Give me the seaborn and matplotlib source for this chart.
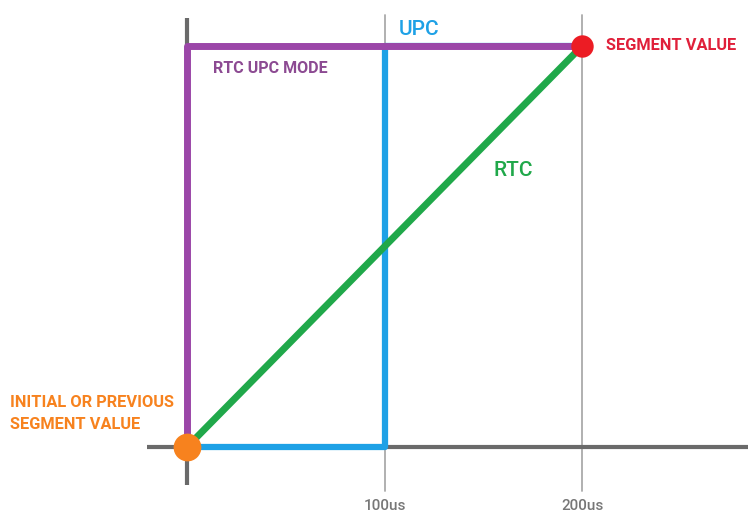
import matplotlib
matplotlib.use('Agg')
import matplotlib.pyplot as plt
import pandas as pd
import seaborn as sns

# Data (time in us, value normalised: 0 = initial, 1 = segment value)
tick_times = [100, 200]
tick_labels = ['100us', '200us']
rtc_x = [0, 200]
rtc_y = [0, 1]
upc_x = [0, 100, 100, 200]
upc_y = [0, 0, 1, 1]
mode_x = [0, 0, 200]
mode_y = [0, 1, 1]
start_point = (0, 0)
end_point = (200, 1)

sns.set_theme(style='white')
plt.rcParams['font.family'] = ['Roboto', 'DejaVu Sans']

fig = plt.figure(figsize=(7.48, 5.29), dpi=100)
ax = fig.add_axes([0, 0, 1, 1])

# Grid lines at the time ticks
for t in tick_times:
    ax.plot([t, t], [-0.11, 1.077], color='#aaaaaa', lw=1.3, zorder=1)

# Axes lines
ax.plot([0, 0], [-0.095, 1.07], color='#6a6a6a', lw=3, zorder=2, solid_capstyle='butt')
ax.plot([-20.4, 285], [0, 0], color='#6a6a6a', lw=3, zorder=2, solid_capstyle='butt')

# Signal curves
upc = pd.DataFrame({'x': upc_x, 'y': upc_y})
mode = pd.DataFrame({'x': mode_x, 'y': mode_y})
rtc = pd.DataFrame({'x': rtc_x, 'y': rtc_y})
sns.lineplot(data=upc, x='x', y='y', sort=False, estimator=None, color='#1ea1e6', lw=4.5, ax=ax, zorder=3)
sns.lineplot(data=mode, x='x', y='y', sort=False, estimator=None, color='#9b46a8', lw=5, ax=ax, zorder=4)
sns.lineplot(data=rtc, x='x', y='y', sort=False, estimator=None, color='#20a84a', lw=5, ax=ax, zorder=5)

# End points
sns.scatterplot(x=[end_point[0]], y=[end_point[1]], color='#ec1c24', s=260, linewidth=0, ax=ax, zorder=6)
sns.scatterplot(x=[start_point[0]], y=[start_point[1]], color='#f7821e', s=400, linewidth=0, ax=ax, zorder=6)

# Scale: origin at 187px, 200us at 582px
ax.set_xlim(-94.7, 284.0)
ax.set_ylim(-0.2045, 1.1147)
ax.axis('off')

# Labels
for t, lab in zip(tick_times, tick_labels):
    ax.text(t, -0.146, lab, ha='center', va='center', color='#777777', fontsize=11, fontweight='medium')

ax.text(107, 1.04, 'UPC', color='#1ea1e6', fontsize=15, fontweight='medium', va='center', ha='left')
ax.text(155, 0.69, 'RTC', color='#20a84a', fontsize=15, fontweight='medium', va='center', ha='left')
ax.text(13, 0.945, 'RTC UPC MODE', color='#8c4a92', fontsize=11.5, fontweight='bold', va='center', ha='left')
ax.text(212, 1.0, 'SEGMENT VALUE', color='#e0203a', fontsize=11.8, fontweight='bold', va='center', ha='left')
ax.text(-89.5, 0.083, 'INITIAL OR PREVIOUS\nSEGMENT VALUE', color='#f7821e', fontsize=11.8,
        fontweight='bold', va='center', ha='left', linespacing=1.6)

fig.savefig('out.png', dpi=100, facecolor='white')
